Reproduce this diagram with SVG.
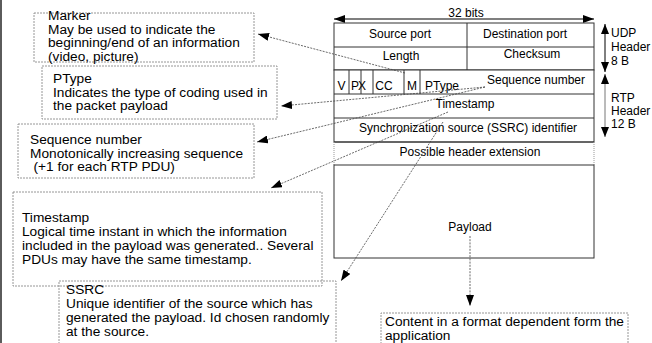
<svg xmlns="http://www.w3.org/2000/svg" width="652" height="343" viewBox="0 0 652 343">
  <defs>
    <marker id="tip" markerUnits="userSpaceOnUse" markerWidth="11" markerHeight="8" refX="11" refY="4" orient="auto-start-reverse" viewBox="0 0 11 8">
      <path d="M0,0 L11,4 L0,8 z" fill="#000"/>
    </marker>
    <marker id="tipS" markerUnits="userSpaceOnUse" markerWidth="10" markerHeight="8" refX="10" refY="4" orient="auto-start-reverse" viewBox="0 0 10 8">
      <path d="M0,0 L10,4 L0,8 z" fill="#000"/>
    </marker>
  </defs>
  <style>
    .note { fill: none; stroke: #8a8a8a; stroke-width: 0.9; stroke-dasharray: 2 1; }
    .nt { font-family: "Liberation Sans", Arial, sans-serif; font-size: 13.7px; fill: #000; }
    .ft { font-family: "Liberation Sans", Arial, sans-serif; font-size: 12px; fill: #000; }
    .mid { text-anchor: middle; }
    .cell { fill: #fff; stroke: #333; stroke-width: 1; }
    .rule { stroke: #333; stroke-width: 1; fill: none; }
    .dot { stroke: #999; stroke-width: 1; stroke-dasharray: 1 1; fill: none; }
    .link { fill: none; stroke: #444; stroke-width: 0.8; stroke-dasharray: 2 1.2; marker-end: url(#tip); }
  </style>

  <rect width="652" height="343" fill="#fff"/>
  <line x1="1" y1="0" x2="1" y2="343" stroke="#333" stroke-width="1.6"/>

  <!-- packet header layout -->
  <g id="packet">
    <line x1="334" y1="19" x2="594" y2="19" stroke="#000" stroke-width="1.2" marker-start="url(#tip)" marker-end="url(#tip)"/>
    <text class="ft mid" x="466" y="17">32 bits</text>

    <rect class="cell" x="334" y="23" width="260" height="47"/>
    <line class="rule" x1="334" y1="47" x2="594" y2="47"/>
    <line class="rule" x1="467" y1="23" x2="467" y2="94"/>
    <text class="ft mid" x="400" y="38">Source port</text>
    <text class="ft mid" x="525" y="38">Destination port</text>
    <text class="ft mid" x="401" y="60">Length</text>
    <text class="ft mid" x="532" y="58">Checksum</text>

    <rect class="cell" x="334" y="70" width="260" height="72"/>
    <line class="rule" x1="334" y1="94" x2="594" y2="94"/>
    <line class="rule" x1="334" y1="118" x2="594" y2="118"/>
    <line class="rule" x1="349" y1="70" x2="349" y2="94"/>
    <line class="rule" x1="361" y1="70" x2="361" y2="94"/>
    <line class="rule" x1="373" y1="70" x2="373" y2="94"/>
    <line class="rule" x1="404" y1="70" x2="404" y2="94"/>
    <line class="rule" x1="420" y1="70" x2="420" y2="94"/>
    <text class="ft mid" x="341.5" y="90">V</text>
    <text class="ft mid" x="355" y="90">P</text>
    <text class="ft mid" x="362" y="90">X</text>
    <text class="ft mid" x="384" y="90">CC</text>
    <text class="ft mid" x="412" y="90">M</text>
    <text class="ft mid" x="442" y="90">PType</text>
    <text class="ft mid" x="536" y="84">Sequence number</text>
    <text class="ft mid" x="465" y="108">Timestamp</text>
    <text class="ft mid" x="468" y="132">Synchronization source (SSRC) identifier</text>

    <line class="rule" x1="334" y1="142" x2="594" y2="142"/>
    <line class="dot" x1="334" y1="142" x2="334" y2="165"/>
    <line class="dot" x1="594" y1="142" x2="594" y2="165"/>
    <text class="ft mid" x="470" y="156">Possible header extension</text>

    <rect class="cell" x="334" y="165" width="260" height="93"/>
    <text class="ft mid" x="470" y="231">Payload</text>
  </g>

  <!-- header size brackets -->
  <g id="udp-size">
    <line x1="605" y1="24" x2="605" y2="72" stroke="#000" stroke-width="1" marker-start="url(#tipS)" marker-end="url(#tipS)"/>
    <text class="ft" x="611" y="37">UDP</text>
    <text class="ft" x="611" y="51">Header</text>
    <text class="ft" x="611" y="65">8 B</text>
  </g>
  <g id="rtp-size">
    <line x1="605" y1="74" x2="605" y2="137" stroke="#777" stroke-width="1" marker-start="url(#tipS)" marker-end="url(#tipS)"/>
    <text class="ft" x="611" y="102">RTP</text>
    <text class="ft" x="611" y="115">Header</text>
    <text class="ft" x="611" y="128">12 B</text>
  </g>

  <!-- field notes -->
  <g id="note-marker">
    <rect class="note" x="34" y="13" width="220" height="49"/>
    <text class="nt" x="48" y="20">Marker</text>
    <text class="nt" x="48" y="33.5">May be used to indicate the</text>
    <text class="nt" x="48" y="47">beginning/end of an information</text>
    <text class="nt" x="48" y="60.5">(video, picture)</text>
  </g>
  <g id="note-ptype">
    <rect class="note" x="42" y="66" width="235" height="53"/>
    <text class="nt" x="53" y="83">PType</text>
    <text class="nt" x="53" y="96.5">Indicates the type of coding used in</text>
    <text class="nt" x="53" y="110">the packet payload</text>
  </g>
  <g id="note-seq">
    <rect class="note" x="18" y="124" width="236" height="54"/>
    <text class="nt" x="30" y="144">Sequence number</text>
    <text class="nt" x="30" y="157.5">Monotonically increasing sequence</text>
    <text class="nt" x="33.5" y="171">(+1 for each RTP PDU)</text>
  </g>
  <g id="note-timestamp">
    <rect class="note" x="13" y="192" width="309" height="94"/>
    <text class="nt" x="22" y="222">Timestamp</text>
    <text class="nt" x="22" y="236">Logical time instant in which the information</text>
    <text class="nt" x="22" y="250">included in the payload was generated.. Several</text>
    <text class="nt" x="22" y="264">PDUs may have the same timestamp.</text>
  </g>
  <g id="note-ssrc">
    <path class="note" d="M59,344 V281 H336 V344"/>
    <text class="nt" x="66" y="294">SSRC</text>
    <text class="nt" x="66" y="308">Unique identifier of the source which has</text>
    <text class="nt" x="66" y="322">generated the payload. Id chosen randomly</text>
    <text class="nt" x="66" y="336">at the source.</text>
  </g>
  <g id="note-payload">
    <path class="note" d="M381,344 V313 H628 V344"/>
    <text class="nt" x="385" y="325.5">Content in a format dependent form the</text>
    <text class="nt" x="385" y="340">application</text>
  </g>

  <!-- connectors from fields to notes -->
  <g id="connectors">
    <line class="link" x1="405" y1="73" x2="258" y2="34"/>
    <line class="link" x1="485" y1="87" x2="281" y2="106"/>
    <line class="link" x1="485" y1="87" x2="257" y2="142"/>
    <line class="link" x1="448" y1="112" x2="271" y2="188"/>
    <line class="link" x1="443" y1="122" x2="341" y2="281"/>
    <line class="link" x1="470" y1="236" x2="470" y2="306"/>
  </g>
</svg>
